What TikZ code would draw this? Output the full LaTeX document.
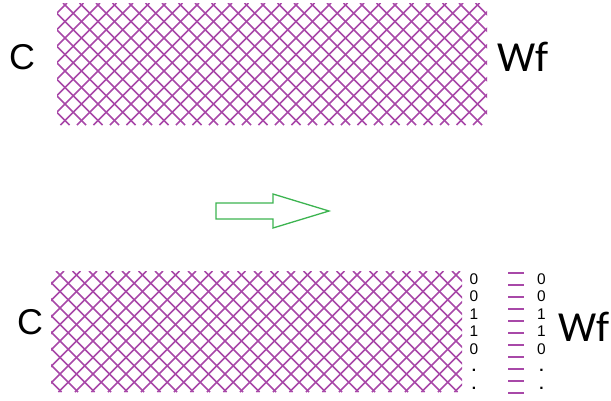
\documentclass[tikz,border=0pt]{standalone}
\usepackage{fontspec}
\setmainfont{Liberation Sans}
\newfontfamily\calib{Carlito}
\definecolor{hatchc}{RGB}{168,72,168}
\definecolor{arrowc}{RGB}{60,180,80}
\begin{document}
\begin{tikzpicture}[x=1bp,y=-1bp,
 hatch/.style={draw=hatchc,line width=1.7bp},
 biglbl/.style={inner sep=0pt,font=\fontsize{36}{36}\selectfont},
 wflbl/.style={inner sep=0pt,font=\calib\fontsize{43}{43}\selectfont},
 bit/.style={inner sep=0pt,anchor=base,font=\fontsize{15.5}{15.5}\selectfont},
 dotbit/.style={bit,font=\bfseries\fontsize{15.5}{15.5}\selectfont},
 tick/.style={draw=hatchc,line width=1.6bp},
 flow/.style={draw=arrowc,line width=1.3bp,fill=white}]
\useasboundingbox (0,0) rectangle (611,400);
% top hatched block
\begin{scope}
\clip (57,3) rectangle (487,125);
\foreach \i in {-8,...,33} {
  \draw[hatch] ({63+16.5*\i},3) -- ++(122,122);
  \draw[hatch] ({67+16.5*\i},3) -- ++(-122,122);
}
\end{scope}
% bottom hatched block
\begin{scope}
\clip (51,271) rectangle (462,392);
\foreach \i in {-8,...,33} {
  \draw[hatch] ({56+16.5*\i},271) -- ++(121,121);
  \draw[hatch] ({64+16.5*\i},271) -- ++(-121,121);
}
\end{scope}
% labels
\node[biglbl] (c1) at (22,57) {C};
\node[wflbl] (w1) at (523,57) {Wf};
\node[biglbl] (c2) at (30,322) {C};
\node[wflbl] (w2) at (584,327) {Wf};
% arrow
\draw[flow] (216,203) -- (273,203) -- (273,194) -- (329,211) -- (273,228) -- (273,219) -- (216,219) -- cycle;
% bit columns
\foreach \b/\y [count=\n] in {0/284.3,0/301.8,1/319.3,1/336.8,0/354.3} {
  \node[bit] (a\n) at (474,\y) {\b};
  \node[bit] (b\n) at (541.5,\y) {\b};
}
\foreach \y [count=\n from 6] in {371.8,389.3} {
  \node[dotbit] (a\n) at (474,\y) {.};
  \node[dotbit] (b\n) at (541.5,\y) {.};
}
\foreach \k in {0,...,10} {
  \draw[tick] (508,{273+12*\k}) -- (524,{273+12*\k});
}
\end{tikzpicture}
\end{document}
